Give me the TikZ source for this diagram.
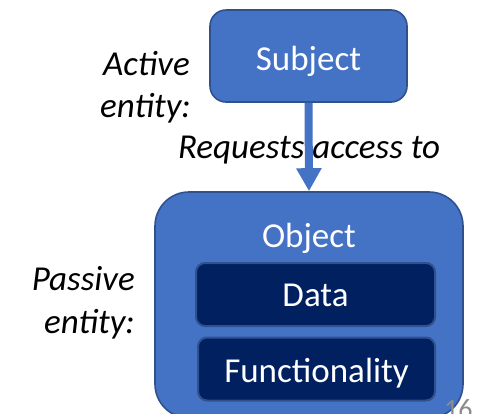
\documentclass[tikz,border=0pt]{standalone}
\usepackage{fontspec}
\setmainfont{Carlito}
\usetikzlibrary{arrows.meta}
\definecolor{officeblue}{HTML}{4472C4}
\definecolor{edgeblue}{HTML}{2F528F}
\definecolor{navy}{HTML}{002060}
\definecolor{pagegray}{HTML}{8C8C8C}
\tikzset{
  bigfont/.style={font=\fontsize{35}{42}\selectfont},
  outerbox/.style={draw=edgeblue, line width=1.6pt, fill=officeblue, inner sep=0pt},
  innerbox/.style={draw=edgeblue, line width=2pt, fill=navy, rounded corners=9pt, inner sep=0pt},
  whitetext/.style={bigfont, text=white, inner sep=0pt},
  blacktext/.style={bigfont, text=black, inner sep=0pt, font=\fontsize{35}{42}\selectfont\itshape},
}
\begin{document}
\begin{tikzpicture}[x=1pt,y=-1pt]
\useasboundingbox (0,0) rectangle (478,413);
% boxes
\node[outerbox, rounded corners=16pt, minimum width=197pt, minimum height=92pt] (subject) at (308.5,56) {};
\node[outerbox, rounded corners=34pt, minimum width=308pt, minimum height=226pt] (object) at (309,305) {};
\node[innerbox, minimum width=239pt, minimum height=63pt] (data) at (315.5,294.5) {};
\node[innerbox, minimum width=237pt, minimum height=63pt] (func) at (316.5,369) {};
% texts
\node[whitetext, anchor=base] (subjectlbl) at (308.5,70) {Subject};
\node[whitetext, anchor=base] (objectlbl) at (309,247) {Object};
\node[whitetext, anchor=base] (datalbl) at (315.5,306) {Data};
\node[whitetext, anchor=base] (funclbl) at (316.5,382) {Functionality};
\node[blacktext, anchor=base east] (active) at (190,75) {Active};
\node[blacktext, anchor=base east] (activeent) at (191,117) {entity:};
\node[blacktext, anchor=base east] (passive) at (135,290) {Passive};
\node[blacktext, anchor=base east] (passiveent) at (135,333) {entity:};
\node[blacktext, anchor=base] (requests) at (309,158) {Requests access to};
% arrow
\draw[officeblue, line width=8pt, -{Triangle[width=24pt,length=23pt]}] (subject.south) -- (object.north);
% page number
\node[anchor=base west, inner sep=0pt, text=pagegray, font=\fontsize{28}{32}\selectfont] (pagenum) at (444,418) {16};
\end{tikzpicture}
\end{document}
